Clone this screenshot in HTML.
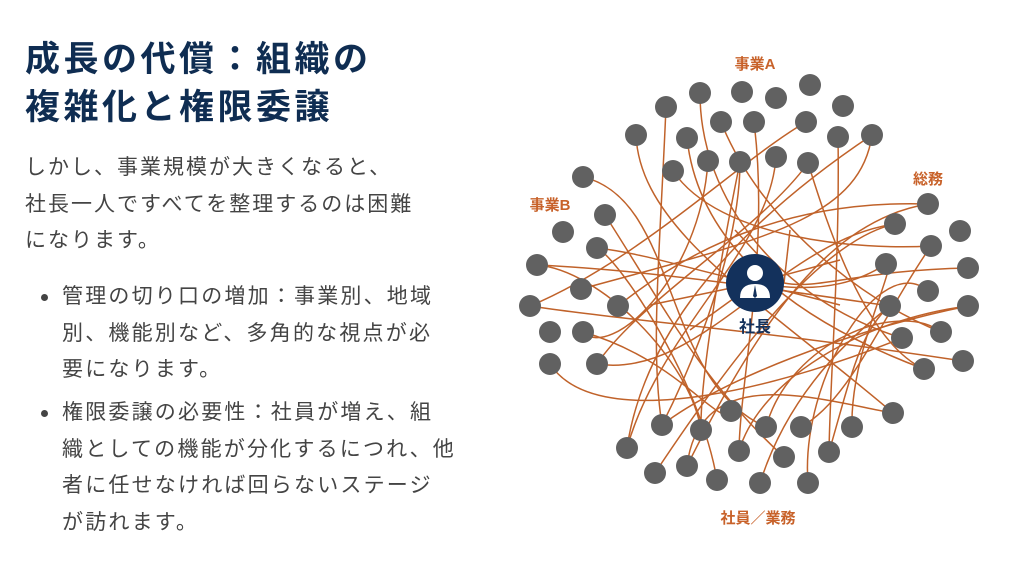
<!DOCTYPE html>
<html><head><meta charset="utf-8"><style>
body{margin:0;width:1024px;height:565px;background:#fff;overflow:hidden;position:relative;font-family:"Liberation Sans","Noto Sans CJK JP",sans-serif}
.t{position:absolute;left:25px;font-size:35px;font-weight:bold;color:#0f2d52;letter-spacing:3.5px;line-height:48px;white-space:nowrap}
.p{position:absolute;left:25px;font-size:21px;color:#444;letter-spacing:2px;line-height:36.5px;white-space:nowrap}
.b{position:absolute;left:62px;font-size:21px;color:#444;letter-spacing:2.2px;line-height:36.7px;white-space:nowrap}
.dot{position:absolute;left:41px;width:7px;height:7px;border-radius:50%;background:#444}
</style></head><body>
<div class="t" style="top:36px">成長の代償：組織の<br>複雑化と権限委譲</div>
<div class="p" style="top:150px">しかし、事業規模が大きくなると、<br>社長一人ですべてを整理するのは困難<br>になります。</div>
<div class="dot" style="top:294px"></div>
<div class="b" style="top:279px">管理の切り口の増加：事業別、地域<br>別、機能別など、多角的な視点が必<br>要になります。</div>
<div class="dot" style="top:410px"></div>
<div class="b" style="top:395px">権限委譲の必要性：社員が増え、組<br>織としての機能が分化するにつれ、他<br>者に任せなければ回らないステージ<br>が訪れます。</div>
<svg width="1024" height="565" style="position:absolute;left:0;top:0">
<g fill="none" stroke="#c0622a" stroke-width="1.5">
<path d="M666,107 C660,250 650,350 662,425"/>
<path d="M636,135 C640,230 760,300 893,413"/>
<path d="M687,138 C700,260 820,330 924,369"/>
<path d="M708,161 C700,280 610,360 583,332"/>
<path d="M740,162 C720,260 700,380 701,430"/>
<path d="M776,157 C770,250 660,330 627,448"/>
<path d="M808,163 C760,230 640,300 597,364"/>
<path d="M673,171 C720,240 860,250 931,246"/>
<path d="M721,122 C760,220 860,300 941,332"/>
<path d="M754,122 C770,250 740,380 739,451"/>
<path d="M806,122 C740,160 640,260 530,306"/>
<path d="M838,137 C840,260 830,380 829,452"/>
<path d="M872,135 C860,220 760,240 581,289"/>
<path d="M700,93 C700,200 780,300 902,338"/>
<path d="M583,177 C680,200 660,380 766,427"/>
<path d="M605,215 C660,300 700,380 784,457"/>
<path d="M597,248 C700,260 800,320 886,264"/>
<path d="M537,265 C650,270 780,290 890,306"/>
<path d="M530,306 C620,320 760,330 963,361"/>
<path d="M618,306 C700,240 800,200 928,204"/>
<path d="M550,364 C600,440 800,380 902,338"/>
<path d="M597,364 C700,380 780,240 895,224"/>
<path d="M583,332 C680,360 720,430 731,411"/>
<path d="M928,204 C830,220 760,320 687,466"/>
<path d="M895,224 C820,240 730,360 655,473"/>
<path d="M931,246 C880,320 850,400 801,427"/>
<path d="M968,268 C860,270 820,290 784,283"/>
<path d="M968,306 C850,330 720,380 662,425"/>
<path d="M890,306 C820,360 780,420 760,483"/>
<path d="M924,369 C860,340 820,200 808,163"/>
<path d="M893,413 C820,400 700,360 687,466"/>
<path d="M852,427 C850,350 900,260 886,264"/>
<path d="M717,480 C700,380 620,260 597,248"/>
<path d="M808,483 C800,380 880,250 928,291"/>
<path d="M739,451 C760,380 860,320 968,306"/>
<path d="M701,430 C690,360 600,270 537,265"/>
<path d="M662,425 C700,350 740,240 740,162"/>
<path d="M627,448 C640,360 700,250 872,135"/>
<path d="M766,427 C790,340 900,300 941,332"/>
<path d="M829,452 C850,380 860,330 890,306"/>
<path d="M784,283 L735,230"/><path d="M784,283 L790,230"/>
<path d="M755,283 L650,305"/><path d="M755,283 L840,260"/>
<path d="M755,283 L840,305"/><path d="M755,283 L690,330"/>
</g>
<g fill="#616161">
<circle cx="700" cy="93" r="11"/><circle cx="742" cy="92" r="11"/><circle cx="776" cy="98" r="11"/><circle cx="810" cy="85" r="11"/><circle cx="843" cy="106" r="11"/><circle cx="666" cy="107" r="11"/><circle cx="721" cy="122" r="11"/><circle cx="754" cy="122" r="11"/><circle cx="806" cy="122" r="11"/><circle cx="872" cy="135" r="11"/><circle cx="838" cy="137" r="11"/><circle cx="636" cy="135" r="11"/><circle cx="687" cy="138" r="11"/><circle cx="708" cy="161" r="11"/><circle cx="740" cy="162" r="11"/><circle cx="776" cy="157" r="11"/><circle cx="808" cy="163" r="11"/><circle cx="673" cy="171" r="11"/>
<circle cx="583" cy="177" r="11"/><circle cx="605" cy="215" r="11"/><circle cx="563" cy="232" r="11"/><circle cx="597" cy="248" r="11"/><circle cx="537" cy="265" r="11"/><circle cx="581" cy="289" r="11"/><circle cx="530" cy="306" r="11"/><circle cx="618" cy="306" r="11"/><circle cx="550" cy="332" r="11"/><circle cx="583" cy="332" r="11"/><circle cx="550" cy="364" r="11"/><circle cx="597" cy="364" r="11"/>
<circle cx="928" cy="204" r="11"/><circle cx="895" cy="224" r="11"/><circle cx="960" cy="231" r="11"/><circle cx="931" cy="246" r="11"/><circle cx="886" cy="264" r="11"/><circle cx="968" cy="268" r="11"/><circle cx="928" cy="291" r="11"/><circle cx="890" cy="306" r="11"/><circle cx="968" cy="306" r="11"/><circle cx="941" cy="332" r="11"/><circle cx="902" cy="338" r="11"/><circle cx="963" cy="361" r="11"/><circle cx="924" cy="369" r="11"/><circle cx="893" cy="413" r="11"/>
<circle cx="731" cy="411" r="11"/><circle cx="662" cy="425" r="11"/><circle cx="701" cy="430" r="11"/><circle cx="766" cy="427" r="11"/><circle cx="801" cy="427" r="11"/><circle cx="852" cy="427" r="11"/><circle cx="627" cy="448" r="11"/><circle cx="739" cy="451" r="11"/><circle cx="784" cy="457" r="11"/><circle cx="829" cy="452" r="11"/><circle cx="655" cy="473" r="11"/><circle cx="687" cy="466" r="11"/><circle cx="717" cy="480" r="11"/><circle cx="760" cy="483" r="11"/><circle cx="808" cy="483" r="11"/>
</g>
<circle cx="755" cy="283" r="29" fill="#13315c"/>
<circle cx="755" cy="273" r="8" fill="#fff"/>
<path d="M740,298 Q740,284 755,284 Q770,284 770,298 Z" fill="#fff"/>
<path d="M755,285 L753,296 L755,298 L757,296 Z" fill="#13315c"/>
<g font-family="Liberation Sans, Noto Sans CJK JP, sans-serif" font-weight="bold" text-anchor="middle">
<text x="755" y="332" font-size="16" fill="#13315c">社長</text>
<text x="755" y="69" font-size="15" fill="#c8622a">事業A</text>
<text x="928" y="184" font-size="15" fill="#c8622a">総務</text>
<text x="550" y="210" font-size="15" fill="#c8622a">事業B</text>
<text x="758" y="523" font-size="15" fill="#c8622a">社員／業務</text>
</g>
</svg>
</body></html>
